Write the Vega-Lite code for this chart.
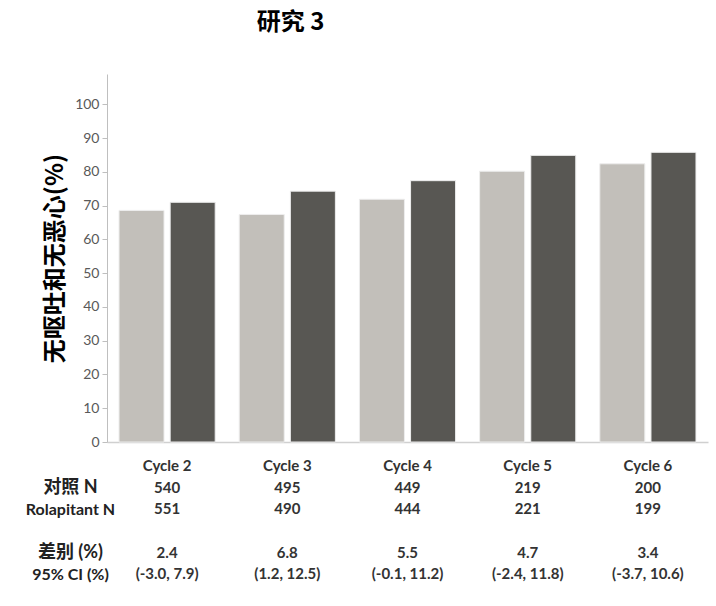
{
  "$schema": "https://vega.github.io/schema/vega-lite/v6.json",
  "padding": {"left": 25, "top": 11, "right": 5, "bottom": 5},
  "background": "white",
  "config": {"view": {"stroke": null}, "font": "Lato, 'Noto Sans CJK SC'"},
  "spacing": 6,
  "vconcat": [
    {
      "title": {"text": "研究 3", "font": "'Noto Sans CJK SC'", "fontSize": 24, "fontWeight": "bold", "color": "#000000", "anchor": "middle", "dx": -117, "offset": 39},
      "width": 601,
      "height": 368,
      "data": {"values": [
        {"cycle": "Cycle 2", "group": "对照", "value": 68.6},
        {"cycle": "Cycle 2", "group": "Rolapitant", "value": 71.0},
        {"cycle": "Cycle 3", "group": "对照", "value": 67.4},
        {"cycle": "Cycle 3", "group": "Rolapitant", "value": 74.3},
        {"cycle": "Cycle 4", "group": "对照", "value": 71.9},
        {"cycle": "Cycle 4", "group": "Rolapitant", "value": 77.4},
        {"cycle": "Cycle 5", "group": "对照", "value": 80.2},
        {"cycle": "Cycle 5", "group": "Rolapitant", "value": 84.9},
        {"cycle": "Cycle 6", "group": "对照", "value": 82.4},
        {"cycle": "Cycle 6", "group": "Rolapitant", "value": 85.8}
      ]},
      "mark": {"type": "bar", "stroke": "#ededed", "strokeWidth": 1},
      "encoding": {
        "x": {"field": "cycle", "type": "nominal", "sort": ["Cycle 2", "Cycle 3", "Cycle 4", "Cycle 5", "Cycle 6"],
              "scale": {"paddingInner": 0.2, "paddingOuter": 0.1},
              "axis": {"labels": false, "ticks": false, "title": null, "domainColor": "#d0d0d0", "domainWidth": 1.5}},
        "xOffset": {"field": "group", "type": "nominal", "sort": ["对照", "Rolapitant"], "scale": {"paddingInner": 0.12, "paddingOuter": 0}},
        "y": {"field": "value", "type": "quantitative", "scale": {"domain": [0, 109], "nice": false},
              "axis": {"values": [0, 10, 20, 30, 40, 50, 60, 70, 80, 90, 100], "grid": false, "tickSize": 5, "tickColor": "#bfbfbf", "domainColor": "#bfbfbf",
                       "labelColor": "#595959", "labelFontSize": 14, "labelPadding": 3, "labelFont": "Lato",
                       "title": "无呕吐和无恶心(%)", "titleFont": "'Noto Sans CJK SC'", "titleFontSize": 24, "titleFontWeight": "bold", "titleColor": "#000000", "titlePadding": 7}},
        "color": {"field": "group", "type": "nominal", "scale": {"domain": ["对照", "Rolapitant"], "range": ["#C2BFBA", "#585753"]}, "legend": null}
      }
    },
    {
      "width": 601,
      "height": 130,
      "data": {"values": [
        {"cycle": "Cycle 2", "row": "hdr", "text": "Cycle 2"},
        {"cycle": "Cycle 3", "row": "hdr", "text": "Cycle 3"},
        {"cycle": "Cycle 4", "row": "hdr", "text": "Cycle 4"},
        {"cycle": "Cycle 5", "row": "hdr", "text": "Cycle 5"},
        {"cycle": "Cycle 6", "row": "hdr", "text": "Cycle 6"},
        {"cycle": "Cycle 2", "row": "对照 N", "text": "540"},
        {"cycle": "Cycle 3", "row": "对照 N", "text": "495"},
        {"cycle": "Cycle 4", "row": "对照 N", "text": "449"},
        {"cycle": "Cycle 5", "row": "对照 N", "text": "219"},
        {"cycle": "Cycle 6", "row": "对照 N", "text": "200"},
        {"cycle": "Cycle 2", "row": "Rolapitant N", "text": "551"},
        {"cycle": "Cycle 3", "row": "Rolapitant N", "text": "490"},
        {"cycle": "Cycle 4", "row": "Rolapitant N", "text": "444"},
        {"cycle": "Cycle 5", "row": "Rolapitant N", "text": "221"},
        {"cycle": "Cycle 6", "row": "Rolapitant N", "text": "199"},
        {"cycle": "Cycle 2", "row": "差别 (%)", "text": "2.4"},
        {"cycle": "Cycle 3", "row": "差别 (%)", "text": "6.8"},
        {"cycle": "Cycle 4", "row": "差别 (%)", "text": "5.5"},
        {"cycle": "Cycle 5", "row": "差别 (%)", "text": "4.7"},
        {"cycle": "Cycle 6", "row": "差别 (%)", "text": "3.4"},
        {"cycle": "Cycle 2", "row": "95% CI (%)", "text": "(-3.0, 7.9)"},
        {"cycle": "Cycle 3", "row": "95% CI (%)", "text": "(1.2, 12.5)"},
        {"cycle": "Cycle 4", "row": "95% CI (%)", "text": "(-0.1, 11.2)"},
        {"cycle": "Cycle 5", "row": "95% CI (%)", "text": "(-2.4, 11.8)"},
        {"cycle": "Cycle 6", "row": "95% CI (%)", "text": "(-3.7, 10.6)"}
      ]},
      "mark": {"type": "text", "fontWeight": "bold", "fontSize": 15, "color": "#333333", "font": "Lato"},
      "encoding": {
        "x": {"field": "cycle", "type": "nominal", "sort": ["Cycle 2", "Cycle 3", "Cycle 4", "Cycle 5", "Cycle 6"], "axis": null},
        "y": {"field": "row", "type": "nominal",
              "scale": {"domain": ["hdr", "对照 N", "Rolapitant N", "gap", "差别 (%)", "95% CI (%)"]},
              "axis": {"domain": false, "ticks": false, "title": null,
                       "labelExpr": "datum.value == 'hdr' || datum.value == 'gap' ? '' : datum.value",
                       "labelAlign": "center", "labelPadding": 37,
                       "labelFontSize": {"condition": {"test": "datum.value == '对照 N' || datum.value == '差别 (%)'", "value": 18}, "value": 16},
                       "labelFont": "Lato, 'Noto Sans CJK SC'", "labelFontWeight": "bold", "labelColor": "#222222"}},
        "text": {"field": "text"}
      }
    }
  ]
}
